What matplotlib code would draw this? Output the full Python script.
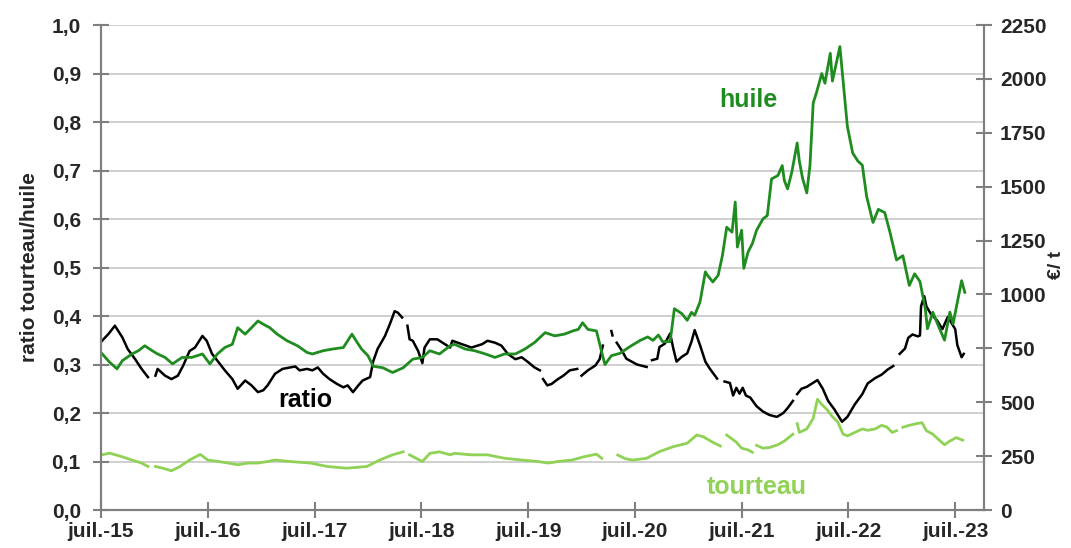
import numpy as np
import matplotlib
matplotlib.use("Agg")
import matplotlib.pyplot as plt

nan = np.nan

# dates en années décimales (juil. = x,5)
ratio_t = [2015.51, 2015.57, 2015.63, 2015.70, 2015.75, 2015.82, 2015.88, 2015.94, 2015.97,
           2016.01, 2016.03, 2016.10, 2016.16, 2016.22, 2016.27, 2016.33, 2016.38, 2016.45,
           2016.49, 2016.54, 2016.60, 2016.66, 2016.73, 2016.78, 2016.85, 2016.91, 2016.97,
           2017.02, 2017.06, 2017.13, 2017.20, 2017.27, 2017.32, 2017.36, 2017.43, 2017.48,
           2017.53, 2017.58, 2017.64, 2017.71, 2017.77, 2017.81, 2017.86, 2017.91, 2017.95,
           2018.02, 2018.05, 2018.09, 2018.16, 2018.21, 2018.25, 2018.28, 2018.32, 2018.34,
           2018.37, 2018.39, 2018.42, 2018.47, 2018.51, 2018.53, 2018.58, 2018.65, 2018.70,
           2018.77, 2018.79, 2018.88, 2018.97, 2019.07, 2019.12, 2019.19, 2019.25, 2019.31,
           2019.38, 2019.44, 2019.50, 2019.56, 2019.61, 2019.62, 2019.64, 2019.68, 2019.72,
           2019.78, 2019.83, 2019.89, 2019.96, 2019.98, 2020.00, 2020.06, 2020.13, 2020.17,
           2020.20, 2020.24, 2020.28, 2020.29, 2020.31, 2020.33, 2020.38, 2020.42, 2020.52,
           2020.61, 2020.64, 2020.66, 2020.71, 2020.73, 2020.78, 2020.83, 2020.86, 2020.89,
           2020.94, 2020.99, 2021.03, 2021.06, 2021.11, 2021.16, 2021.20, 2021.27, 2021.31,
           2021.34, 2021.39, 2021.42, 2021.45, 2021.48, 2021.51, 2021.54, 2021.58, 2021.64,
           2021.70, 2021.76, 2021.83, 2021.89, 2021.93, 2021.98, 2022.00, 2022.02, 2022.06,
           2022.11, 2022.16, 2022.21, 2022.26, 2022.31, 2022.37, 2022.44, 2022.49, 2022.56,
           2022.63, 2022.68, 2022.75, 2022.81, 2022.87, 2022.92, 2022.96, 2022.98, 2023.03,
           2023.06, 2023.10, 2023.15, 2023.17, 2023.18, 2023.21, 2023.23, 2023.27, 2023.33,
           2023.38, 2023.43, 2023.47, 2023.50, 2023.52, 2023.56, 2023.58]
ratio = [0.349, 0.363, 0.380, 0.356, 0.332, 0.311, 0.291, 0.274, nan,
         0.277, 0.291, 0.277, 0.270, 0.277, 0.298, 0.328, 0.335, 0.359,
         0.349, 0.322, 0.305, 0.288, 0.270, 0.250, 0.267, 0.257, 0.243,
         0.247, 0.257, 0.281, 0.291, 0.294, 0.296, 0.288, 0.291, 0.288,
         0.294, 0.281, 0.270, 0.260, 0.253, 0.257, 0.243, 0.257, 0.267,
         0.274, 0.307, 0.332, 0.359, 0.386, 0.410, 0.407, 0.397, nan,
         0.380, 0.352, 0.349, 0.328, 0.303, 0.335, 0.352, 0.352, 0.345,
         0.335, 0.349, 0.342, 0.335, 0.342, 0.349, 0.345, 0.339, 0.322,
         0.311, 0.315, 0.305, 0.294, 0.288, nan, 0.270, 0.257, 0.260,
         0.270, 0.277, 0.288, 0.291, nan, 0.277, 0.288, 0.298, 0.311,
         0.339, nan, 0.369, 0.360, nan, 0.345, 0.328, 0.312, 0.300,
         0.295, nan, 0.309, 0.312, 0.336, 0.343, 0.364, 0.333, 0.306,
         0.316, 0.323, 0.347, 0.371, 0.340, 0.306, 0.292, 0.271, nan,
         0.265, 0.262, 0.236, 0.252, 0.240, 0.252, 0.236, 0.232, 0.214,
         0.203, 0.196, 0.192, 0.200, 0.210, 0.225, nan, 0.239, 0.250,
         0.254, 0.261, 0.268, 0.250, 0.225, 0.207, 0.182, 0.192, 0.218,
         0.239, 0.261, 0.272, 0.279, 0.290, 0.297, nan, 0.322, 0.333,
         0.355, 0.362, 0.358, 0.360, 0.420, 0.441, 0.420, 0.405, 0.391,
         0.373, 0.398, 0.384, 0.373, 0.340, 0.315, 0.322]

huile_t = [2015.51, 2015.58, 2015.65, 2015.70, 2015.79, 2015.85, 2015.91, 2015.98, 2016.03,
           2016.10, 2016.17, 2016.26, 2016.35, 2016.45, 2016.52, 2016.59, 2016.66, 2016.73,
           2016.78, 2016.85, 2016.91, 2016.97, 2017.02, 2017.08, 2017.15, 2017.24, 2017.34,
           2017.43, 2017.48, 2017.58, 2017.67, 2017.77, 2017.85, 2017.90, 2017.94, 2018.00,
           2018.05, 2018.14, 2018.23, 2018.33, 2018.42, 2018.51, 2018.58, 2018.67, 2018.77,
           2018.81, 2018.91, 2019.00, 2019.10, 2019.19, 2019.28, 2019.38, 2019.47, 2019.56,
           2019.66, 2019.75, 2019.84, 2019.92, 2019.97, 2020.01, 2020.06, 2020.14, 2020.19,
           2020.22, 2020.28, 2020.36, 2020.45, 2020.55, 2020.62, 2020.67, 2020.72, 2020.76,
           2020.83, 2020.87, 2020.94, 2020.99, 2021.03, 2021.06, 2021.11, 2021.16, 2021.18,
           2021.23, 2021.28, 2021.32, 2021.36, 2021.41, 2021.44, 2021.46, 2021.50, 2021.52,
           2021.56, 2021.60, 2021.64, 2021.70, 2021.74, 2021.78, 2021.84, 2021.88, 2021.90,
           2021.93, 2021.97, 2022.02, 2022.04, 2022.07, 2022.11, 2022.14, 2022.17, 2022.20,
           2022.25, 2022.28, 2022.33, 2022.35, 2022.42, 2022.47, 2022.49, 2022.54, 2022.59,
           2022.63, 2022.67, 2022.73, 2022.78, 2022.84, 2022.89, 2022.95, 2023.01, 2023.07,
           2023.12, 2023.17, 2023.22, 2023.24, 2023.29, 2023.34, 2023.40, 2023.45, 2023.48,
           2023.52, 2023.56, 2023.59]
huile = [725, 686, 655, 693, 724, 739, 762, 739, 724,
         708, 678, 708, 708, 724, 678, 724, 754, 769,
         846, 816, 846, 877, 862, 846, 816, 786, 762,
         731, 724, 739, 747, 754, 816, 777, 747, 716,
         667, 660, 638, 660, 700, 708, 739, 724, 762,
         769, 747, 739, 724, 708, 724, 724, 747, 777,
         823, 808, 816, 831, 838, 869, 838, 831, 731,
         675, 716, 727, 757, 787, 803, 787, 812, 781,
         781, 934, 911, 880, 917, 904, 965, 1105, 1089,
         1058, 1089, 1181, 1312, 1289, 1429, 1220, 1298, 1121,
         1197, 1236, 1298, 1351, 1366, 1536, 1552, 1598, 1528,
         1490, 1568, 1703, 1620, 1540, 1471, 1600, 1888, 1935,
         2025, 1980, 2119, 1990, 2150, 1888, 1780, 1656, 1618,
         1600, 1456, 1334, 1395, 1380, 1287, 1160, 1180, 1042,
         1096, 1060, 934, 841, 918, 857, 788, 918, 864,
         963, 1064, 1010]

tourteau_t = [2015.51, 2015.58, 2015.70, 2015.79, 2015.88, 2015.94, 2015.97, 2016.01, 2016.08,
              2016.16, 2016.24, 2016.33, 2016.43, 2016.50, 2016.60, 2016.69, 2016.78, 2016.88,
              2016.97, 2017.06, 2017.13, 2017.27, 2017.46, 2017.62, 2017.80, 2017.99, 2018.11,
              2018.23, 2018.33, 2018.36, 2018.39, 2018.51, 2018.58, 2018.67, 2018.77, 2018.81,
              2018.97, 2019.12, 2019.28, 2019.44, 2019.59, 2019.69, 2019.78, 2019.91, 2020.03,
              2020.14, 2020.19, 2020.23, 2020.27, 2020.30, 2020.34, 2020.41, 2020.48, 2020.61,
              2020.73, 2020.86, 2020.99, 2021.08, 2021.14, 2021.22, 2021.30, 2021.31, 2021.36,
              2021.45, 2021.50, 2021.56, 2021.60, 2021.62, 2021.64, 2021.70, 2021.76, 2021.84,
              2021.90, 2021.98, 2022.00, 2022.02, 2022.04, 2022.11, 2022.17, 2022.21, 2022.25,
              2022.30, 2022.35, 2022.40, 2022.45, 2022.49, 2022.56, 2022.63, 2022.68, 2022.75,
              2022.81, 2022.86, 2022.91, 2022.95, 2022.97, 2023.01, 2023.07, 2023.14, 2023.19,
              2023.23, 2023.29, 2023.36, 2023.40, 2023.45, 2023.51, 2023.57]
tourteau = [256, 264, 247, 232, 218, 202, nan, 202, 194,
            182, 202, 232, 258, 232, 225, 218, 210, 218,
            218, 225, 232, 225, 218, 202, 194, 202, 232,
            256, 270, nan, 256, 225, 263, 270, 256, 263,
            256, 256, 240, 232, 225, 218, 225, 232, 248,
            259, 240, nan, 268, nan, 255, 238, 232, 240,
            271, 294, 310, 348, 340, 317, 297, nan, 348,
            315, 287, 279, 268, nan, 300, 287, 290, 303,
            320, 352, nan, 401, 360, 376, 425, 514, 490,
            466, 433, 409, 352, 344, 360, 376, 370, 376,
            393, 385, 360, 368, nan, 384, 393, 401, 405,
            368, 352, 320, 303, 320, 336, 324]

tick_pos = [2015.5, 2016.5, 2017.5, 2018.5, 2019.5, 2020.5, 2021.5, 2022.5, 2023.5]
tick_lab = ["juil.-15", "juil.-16", "juil.-17", "juil.-18", "juil.-19",
            "juil.-20", "juil.-21", "juil.-22", "juil.-23"]
ratio_ticks = np.arange(0, 1.01, 0.1)
eur_ticks = np.arange(0, 2251, 250)

plt.rcParams["font.family"] = ["Liberation Sans", "DejaVu Sans"]

vert_huile = "#1f8c1f"
vert_tourteau = "#8fd255"
gris = "#7f7f7f"

fig = plt.figure(figsize=(10.71, 5.48), dpi=100)
ax = fig.add_axes([0.0943, 0.0693, 0.8245, 0.885])
ax2 = ax.twinx()

ax.plot(ratio_t, ratio, color="black", lw=1.8)
ax2.plot(huile_t, huile, color=vert_huile, lw=2.0)
ax2.plot(tourteau_t, tourteau, color=vert_tourteau, lw=2.0)

ax.set_xlim(2015.5, 2023.77)
ax.set_ylim(0, 1)
ax2.set_ylim(0, 2250)

ax.set_yticks(ratio_ticks)
ax.set_yticklabels([f"{v:.1f}".replace(".", ",") for v in ratio_ticks])
ax2.set_yticks(eur_ticks)
ax2.set_yticklabels([str(v) for v in eur_ticks])
ax.set_xticks(tick_pos)
ax.set_xticklabels(tick_lab)

ax.grid(axis="y", color="#cfcfcf", lw=1.4)
ax.set_axisbelow(True)

for a in (ax, ax2):
    a.spines["top"].set_visible(False)
    for s in ("left", "right", "bottom"):
        a.spines[s].set_color(gris)
        a.spines[s].set_linewidth(1.5)
    a.tick_params(direction="inout", length=11, width=1.5, color=gris,
                  labelsize=15, labelcolor="#262626")
    for lab in a.get_xticklabels() + a.get_yticklabels():
        lab.set_fontweight("bold")
ax.tick_params(axis="y", pad=9)
ax2.tick_params(axis="y", pad=6)
ax.tick_params(axis="x", pad=3)

ax.set_ylabel("ratio tourteau/huile", fontsize=15, fontweight="bold", color="#262626", labelpad=9)
ax2.set_ylabel("€/ t", fontsize=14, fontweight="bold", color="#262626")
ax2.yaxis.set_label_coords(1.072, 0.505)

ax.text(2021.56, 0.845, "huile", color=vert_huile, fontsize=18, fontweight="bold",
        ha="center", va="center")
ax.text(2017.41, 0.227, "ratio", color="black", fontsize=18, fontweight="bold",
        ha="center", va="center")
ax.text(2021.64, 0.047, "tourteau", color=vert_tourteau, fontsize=18, fontweight="bold",
        ha="center", va="center")

fig.savefig("out.png", dpi=100)
